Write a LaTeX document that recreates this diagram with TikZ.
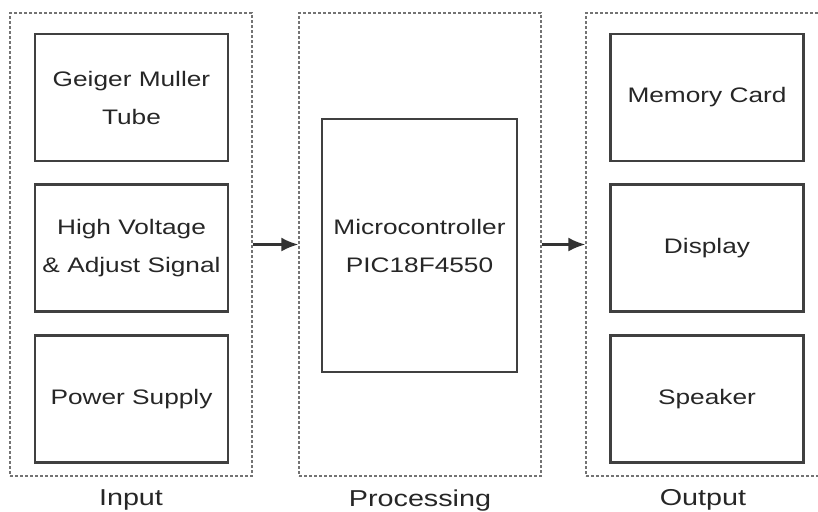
\documentclass[tikz,border=0pt]{standalone}
\usepackage{fontspec}
\setmainfont{Liberation Sans}[FakeStretch=1.25]
\usetikzlibrary{arrows.meta, positioning}

\begin{document}
\begin{tikzpicture}[x=0.5pt, y=-0.5pt, node distance=10.5pt, font=\fontsize{10.5}{19}\selectfont, text=black!85]
\tikzstyle{frame} = [rectangle, draw=black!55, dash pattern=on 1.6pt off 0.9pt, line width=0.7pt, minimum width=121pt, minimum height=231.5pt, inner sep=0pt]
\tikzstyle{block} = [rectangle, draw=black!75, line width=1.3pt, align=center, minimum width=96.5pt, minimum height=63.5pt, inner sep=0pt]
\tikzstyle{line} = [draw=black!80, line width=1.1pt, -{Latex[length=8.5pt,width=7pt]}]
\tikzstyle{caption} = [font=\fontsize{11.5}{13}\selectfont]
\useasboundingbox (0,0) rectangle (818,511);
% dashed stage frames
\node [frame] (in) at (131,244.5) {};
\node [frame] (proc) at (420,244.5) {};
\node [frame] (out) at (707,244.5) {};
% input stage
\node [block] (gm) at (131.5,97.5) {Geiger Muller\\Tube};
\node [block, below=of gm] (hv) {High Voltage\\\& Adjust Signal};
\node [block, below=of hv] (ps) {Power Supply};
% processing stage
\node [block, minimum width=97.5pt, minimum height=126.5pt] (mcu) at (419.5,245.5) {Microcontroller\\PIC18F4550};
% output stage
\node [block] (mem) at (707,97.5) {Memory Card};
\node [block, below=of mem] (disp) {Display};
\node [block, below=of disp] (spk) {Speaker};
% captions
\node [caption, below=3pt of in] (inlbl) {Input};
\node [caption, below=3pt of proc] (proclbl) {Processing};
\node [caption, below=3pt of out, xshift=-2pt] (outlbl) {Output};
\path [line] (in) -- (proc);
\path [line] (proc) -- (out);
\end{tikzpicture}
\end{document}
